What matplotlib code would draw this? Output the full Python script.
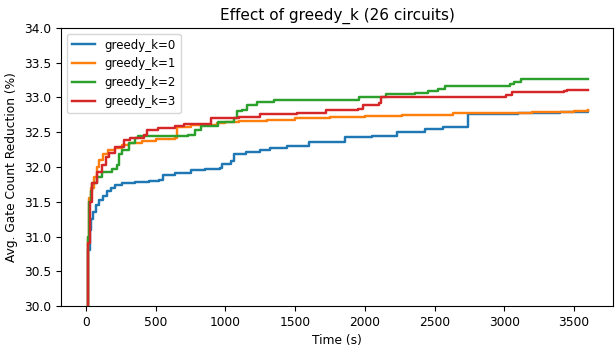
import matplotlib
matplotlib.use("Agg")
import matplotlib.pyplot as plt

# time (s) and avg. gate count reduction (%)
k0_t = [0, 5, 15, 25, 35, 50, 70, 90, 120, 150, 180, 210, 260, 350, 450, 520, 550, 640, 750,
        850, 960, 975, 1040, 1060, 1150, 1250, 1320, 1440, 1600, 1860, 2050, 2230, 2430, 2560,
        2740, 3100, 3400, 3600]
k0_y = [29.0, 29.5, 30.8, 31.1, 31.25, 31.35, 31.45, 31.52, 31.58, 31.65, 31.70, 31.74, 31.77,
        31.78, 31.80, 31.82, 31.88, 31.92, 31.95, 31.97, 31.98, 32.05, 32.08, 32.19, 32.21, 32.25,
        32.27, 32.30, 32.36, 32.43, 32.45, 32.51, 32.54, 32.58, 32.76, 32.78, 32.79, 32.80]

k1_t = [0, 5, 12, 20, 35, 55, 75, 95, 120, 160, 210, 260, 310, 400, 500, 640, 655, 750, 940,
        1000, 1100, 1300, 1500, 1750, 2000, 2270, 2630, 2740, 3200, 3500, 3600]
k1_y = [29.0, 29.5, 31.0, 31.55, 31.7, 31.85, 32.0, 32.1, 32.18, 32.24, 32.28, 32.32, 32.35,
        32.37, 32.40, 32.42, 32.58, 32.60, 32.63, 32.65, 32.66, 32.68, 32.70, 32.72, 32.74, 32.75,
        32.77, 32.78, 32.79, 32.81, 32.82]

k2_t = [0, 5, 12, 20, 33, 45, 80, 116, 187, 222, 234, 258, 305, 353, 370, 731, 778, 825, 944,
        1062, 1086, 1121, 1157, 1228, 1346, 1700, 1960, 2150, 2363, 2456, 2527, 2576, 3038, 3073,
        3120, 3600]
k2_y = [29.0, 29.5, 31.0, 31.5, 31.65, 31.77, 31.86, 31.93, 31.97, 32.03, 32.19, 32.25, 32.34,
        32.41, 32.45, 32.46, 32.53, 32.59, 32.65, 32.70, 32.80, 32.82, 32.89, 32.93, 32.96, 32.97,
        33.01, 33.05, 33.07, 33.10, 33.12, 33.16, 33.19, 33.22, 33.26, 33.26]

k3_t = [0, 8, 15, 25, 45, 80, 116, 140, 163, 210, 270, 317, 419, 435, 518, 636, 700, 896, 1098,
        1250, 1512, 1725, 1950, 1985, 2103, 2115, 3014, 3059, 3428, 3451, 3600]
k3_y = [29.0, 29.5, 30.9, 31.5, 31.77, 31.93, 32.03, 32.15, 32.20, 32.29, 32.39, 32.41, 32.46,
        32.53, 32.56, 32.59, 32.62, 32.70, 32.72, 32.76, 32.78, 32.82, 32.84, 32.89, 32.92, 33.01,
        33.04, 33.08, 33.09, 33.11, 33.11]

series = [
    ("greedy_k=0", k0_t, k0_y),
    ("greedy_k=1", k1_t, k1_y),
    ("greedy_k=2", k2_t, k2_y),
    ("greedy_k=3", k3_t, k3_y),
]

plt.rcParams['font.size'] = 8.8

fig = plt.figure(figsize=(6.16, 3.49), dpi=100)
ax = fig.add_axes([0.099, 0.123, 0.896, 0.797])

for label, t, y in series:
    ax.plot(t, y, drawstyle='steps-post', linewidth=1.75, label=label)

ax.set_ylim(30, 34)
ax.set_xlabel("Time (s)")
ax.set_ylabel("Avg. Gate Count Reduction (%)")
ax.set_title("Effect of greedy_k (26 circuits)", fontsize=11)
ax.legend(loc="upper left", fontsize=8.5)

fig.savefig("out.png", dpi=100)
